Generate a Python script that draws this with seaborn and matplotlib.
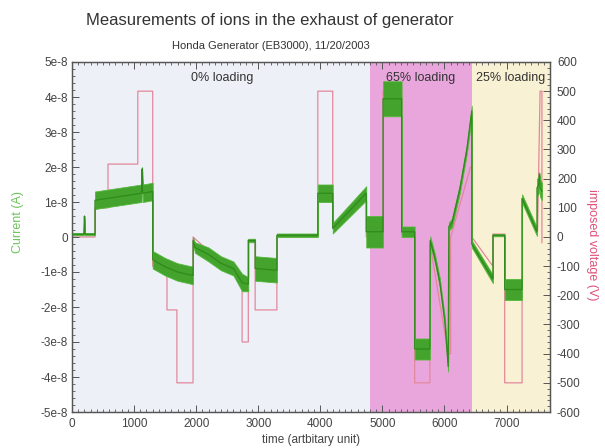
import matplotlib
matplotlib.use("Agg")
import matplotlib.pyplot as plt
from matplotlib.ticker import MultipleLocator, AutoMinorLocator
import numpy as np
import pandas as pd
import seaborn as sns

# ---- data -------------------------------------------------------------
# Ion current (in units of 1e-8 A): time knots, centre of trace, half-width of noise band
cur_t = [0, 190, 200, 210, 370, 370, 1120, 1130, 1140, 1300,
         1300, 1500, 1700, 1950,
         1950, 1980, 2200, 2400, 2600, 2740, 2840,
         2840, 2950,
         2950, 3300,
         3300, 3960,
         3960, 4200,
         4200, 4740,
         4740, 5010,
         5010, 5310,
         5310, 5520,
         5520, 5765,
         5770, 5845, 5925, 6005, 6060,
         6070, 6120, 6250, 6360, 6440,
         6440, 6780,
         6780, 6970,
         6970, 7250,
         7250, 7490,
         7490, 7520, 7530, 7540, 7570]
cur_mid = [0.08, 0.08, 0.6, 0.08, 0.08, 1.05, 1.25, 1.95, 1.25, 1.3,
           -0.65, -0.85, -1.0, -1.1,
           -0.1, -0.3, -0.5, -0.75, -0.9, -1.3, -1.35,
           -0.1, -0.1,
           -0.9, -0.95,
           0.05, 0.05,
           1.25, 1.25,
           0.25, 1.25,
           0.15, 0.15,
           3.95, 3.95,
           0.15, 0.15,
           -3.2, -3.2,
           -0.1, -0.6, -1.3, -2.4, -3.7,
           0.3, 0.4, 1.4, 2.5, 3.6,
           -0.2, -1.2,
           0.05, 0.05,
           -1.5, -1.5,
           1.1, 0.15,
           1.4, 1.5, 1.8, 1.4, 1.3]
cur_spread = [0.03, 0.03, 0.0, 0.03, 0.03, 0.25, 0.25, 0.05, 0.25, 0.25,
              0.25, 0.25, 0.25, 0.25,
              0.1, 0.15, 0.2, 0.2, 0.2, 0.25, 0.2,
              0.05, 0.05,
              0.35, 0.35,
              0.05, 0.05,
              0.25, 0.25,
              0.15, 0.2,
              0.45, 0.45,
              0.5, 0.5,
              0.15, 0.15,
              0.3, 0.3,
              0.12, 0.12, 0.12, 0.12, 0.15,
              0.12, 0.12, 0.12, 0.12, 0.15,
              0.1, 0.12,
              0.03, 0.03,
              0.3, 0.3,
              0.12, 0.12,
              0.25, 0.25, 0.05, 0.25, 0.25]

# Imposed voltage (V): breakpoints of the applied waveform
volt_t = [0, 370, 370, 580, 580, 1060, 1060, 1300, 1300, 1530, 1530, 1690,
          1690, 1950, 1950, 2740, 2740, 2840, 2840, 2950, 2950, 3300, 3300,
          3960, 3960, 4200, 4200, 4740, 4740, 5010, 5010, 5310, 5310, 5520,
          5520, 5765, 5765, 6060, 6100, 6100, 6420, 6440, 6440, 6780, 6780,
          6970, 6970, 7250, 7250, 7490, 7500, 7540, 7570, 7570]
volt_v = [0, 0, 100, 100, 250, 250, 500, 500, -100, -100, -250, -250,
          -500, -500, 0, -150, -360, -360, -10, -10, -250, -250, 0,
          0, 500, 500, 30, 150, 0, 0, 500, 500, 10, 10,
          -500, -500, -20, -400, -400, 0, 240, 240, 0, -100, 10,
          10, -500, -500, 130, 20, 20, 500, 500, -20]

# Engine loading phases
region_start = [0, 4800, 6450]
region_end = [4800, 6450, 7700]
region_names = ["0% loading", "65% loading", "25% loading"]
region_label_t = [2415, 5620, 7070]

left_ticks = [-5e-8, -4e-8, -3e-8, -2e-8, -1e-8, 0, 1e-8, 2e-8, 3e-8, 4e-8, 5e-8]
left_ticklabels = ["-5e-8", "-4e-8", "-3e-8", "-2e-8", "-1e-8", "0",
                   "1e-8", "2e-8", "3e-8", "4e-8", "5e-8"]
right_ticks = [-600, -500, -400, -300, -200, -100, 0, 100, 200, 300, 400, 500, 600]
x_ticks = [0, 1000, 2000, 3000, 4000, 5000, 6000, 7000]

# ---- styling ------------------------------------------------------------
sns.set_theme(style="ticks")
plt.rcParams["font.family"] = ["Liberation Sans", "DejaVu Sans"]

region_colors = ["#eef0f8", "#e9a6dc", "#f8f1d3"]
green = "#43a32c"
pink = "#e3889b"
frame = "#555555"

cur = pd.DataFrame({"t": cur_t,
                    "mid": np.array(cur_mid) * 1e-8,
                    "spread": np.array(cur_spread) * 1e-8})
volt = pd.DataFrame({"t": volt_t, "v": volt_v})

fig = plt.figure(figsize=(6.05, 4.48), dpi=100)
ax = fig.add_axes([72 / 605, 36 / 448, 478 / 605, 350 / 448])
ax2 = ax.twinx()
# current axis drawn above the voltage axis, backgrounds live on the voltage axis
ax.set_zorder(ax2.get_zorder() + 1)
ax.patch.set_visible(False)
ax2.patch.set_visible(True)
ax2.patch.set_facecolor("white")

for s, e, c in zip(region_start, region_end, region_colors):
    ax2.axvspan(s, e, color=c, lw=0, zorder=0)

# imposed voltage on the secondary axis
sns.lineplot(data=volt, x="t", y="v", ax=ax2, color=pink, lw=0.9,
             estimator=None, sort=False, zorder=2)

# current trace: noise band plus centre line
ax.fill_between(cur["t"], cur["mid"] - cur["spread"], cur["mid"] + cur["spread"],
                color=green, lw=0.6, edgecolor="#55b83c", zorder=2)
sns.lineplot(data=cur, x="t", y="mid", ax=ax, color="#2f8a1c", lw=0.9,
             estimator=None, sort=False, zorder=3)

for t, name in zip(region_label_t, region_names):
    ax.text(t, 4.55e-8, name, ha="center", va="center", fontsize=9,
            color="#333333", zorder=4)

ax.set_xlim(0, 7700)
ax.set_ylim(-5e-8, 5e-8)
ax2.set_ylim(-600, 600)

ax.set_xticks(x_ticks)
ax.set_xticklabels([str(v) for v in x_ticks])
ax.xaxis.set_minor_locator(MultipleLocator(100))
ax.set_yticks(left_ticks)
ax.set_yticklabels(left_ticklabels)
ax.yaxis.set_minor_locator(AutoMinorLocator(5))
ax2.set_yticks(right_ticks)
ax2.set_yticklabels([str(v) for v in right_ticks])
ax2.yaxis.set_minor_locator(AutoMinorLocator(5))

ax.tick_params(axis="both", which="both", direction="in", colors=frame,
               labelcolor="#444444", labelsize=8.5, top=True, right=False)
ax.tick_params(which="major", length=5, width=0.7)
ax.tick_params(which="minor", length=2.5, width=0.6)
ax.tick_params(axis="y", pad=3)
ax.tick_params(axis="x", pad=4)
ax2.tick_params(axis="y", which="both", direction="in", colors=frame,
                labelcolor="#444444", labelsize=8.5, pad=5)
ax2.tick_params(which="major", length=5, width=0.7)
ax2.tick_params(which="minor", length=2.5, width=0.6)

for a in (ax, ax2):
    for sp in a.spines.values():
        sp.set_color(frame)
        sp.set_linewidth(0.9)

ax.set_xlabel("time (artbitary unit)", fontsize=8.5, color="#444444")
ax.xaxis.label.set(va="center")
ax.xaxis.set_label_coords(0.5, -0.08)
ax.set_ylabel("Current (A)", fontsize=9, color="#6cc45a")
ax.yaxis.label.set(va="center", ha="center", rotation_mode="anchor")
ax.yaxis.set_label_coords(-0.113, 0.543)
ax2.set_ylabel("imposed voltage (V)", fontsize=9, color="#e0507a", rotation=270)
ax2.yaxis.label.set(va="center", ha="center", rotation_mode="anchor")
ax2.yaxis.set_label_coords(1.088, 0.477)

fig.text(270 / 605, 1 - 21 / 448, "Measurements of ions in the exhaust of generator",
         ha="center", va="center", fontsize=12, color="#333333")
fig.text(271 / 605, 1 - 46 / 448, "Honda Generator (EB3000), 11/20/2003",
         ha="center", va="center", fontsize=8, color="#333333")

fig.savefig("out.png", dpi=100)
